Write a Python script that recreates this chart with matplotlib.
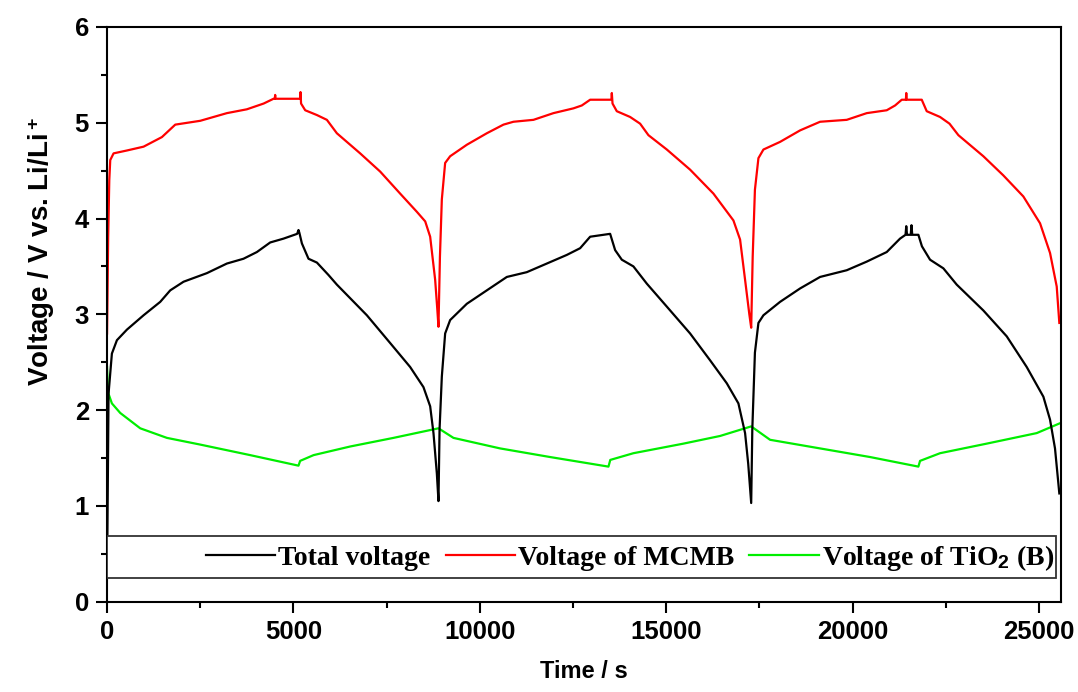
import matplotlib
matplotlib.use('Agg')
import matplotlib.pyplot as plt
from matplotlib.patches import Rectangle
from matplotlib.ticker import MultipleLocator

# values (time in s, voltage in V)
t_mcmb = [0, 30, 60, 86, 175, 533, 980, 1472, 1830, 2500, 3215, 3750, 4200,
          4466, 4500, 4510, 4520, 5180, 5190, 5205, 5316, 5630, 5897, 6165,
          6790, 7327, 7863, 8311, 8535, 8668, 8802, 8860, 8891, 8930, 8981,
          9070, 9204, 9652, 10188, 10634, 10902, 11439, 11975, 12512, 12736,
          12960, 13530, 13541, 13560, 13675, 14032, 14300, 14523, 15017,
          15641, 16267, 16803, 16982, 17116, 17230, 17280, 17320, 17380,
          17474, 17608, 18055, 18592, 19128, 19843, 20380, 20916, 21140,
          21319, 21430, 21440, 21450, 21855, 21989, 22346, 22600, 22838,
          23508, 24044, 24581, 25029, 25297, 25476, 25546]
v_mcmb = [2.80, 3.80, 4.40, 4.61, 4.68, 4.71, 4.75, 4.85, 4.98, 5.02, 5.10,
          5.14, 5.20, 5.25, 5.25, 5.29, 5.25, 5.25, 5.32, 5.20, 5.13, 5.08,
          5.03, 4.89, 4.68, 4.49, 4.26, 4.07, 3.97, 3.81, 3.36, 3.05, 2.87,
          3.60, 4.20, 4.58, 4.65, 4.77, 4.89, 4.98, 5.01, 5.03, 5.10, 5.15,
          5.18, 5.24, 5.24, 5.31, 5.20, 5.12, 5.06, 4.99, 4.87, 4.72, 4.51,
          4.26, 3.98, 3.78, 3.36, 3.00, 2.86, 3.60, 4.30, 4.63, 4.72, 4.80,
          4.92, 5.01, 5.03, 5.10, 5.13, 5.18, 5.24, 5.24, 5.31, 5.24, 5.24,
          5.12, 5.06, 4.99, 4.87, 4.65, 4.45, 4.23, 3.95, 3.64, 3.29, 2.91]

t_total = [0, 20, 40, 130, 265, 533, 980, 1427, 1695, 2052, 2680, 3215, 3660,
           4020, 4377, 4734, 5100, 5136, 5160, 5227, 5404, 5630, 5941, 6165,
           6970, 7595, 8131, 8488, 8668, 8757, 8847, 8891, 8920, 8981, 9070,
           9204, 9652, 10188, 10725, 11261, 11798, 12334, 12691, 12960,
           13496, 13630, 13809, 14120, 14480, 15017, 15641, 16177, 16625,
           16937, 17116, 17200, 17280, 17310, 17380, 17474, 17608, 18055,
           18592, 19128, 19843, 20380, 20916, 21273, 21420, 21440, 21460,
           21560, 21580, 21600, 21765, 21860, 22078, 22435, 22793, 23508,
           24135, 24671, 25118, 25297, 25430, 25546]
v_total = [0.25, 1.20, 2.17, 2.59, 2.73, 2.84, 2.99, 3.13, 3.25, 3.34, 3.43,
           3.53, 3.58, 3.65, 3.75, 3.79, 3.84, 3.88, 3.85, 3.74, 3.58, 3.54,
           3.41, 3.31, 2.99, 2.70, 2.45, 2.24, 2.04, 1.76, 1.34, 1.05, 1.80,
           2.35, 2.80, 2.94, 3.11, 3.25, 3.39, 3.44, 3.53, 3.62, 3.69, 3.81,
           3.84, 3.67, 3.57, 3.50, 3.32, 3.08, 2.80, 2.52, 2.28, 2.07, 1.76,
           1.44, 1.03, 1.80, 2.60, 2.91, 2.99, 3.13, 3.27, 3.39, 3.46, 3.55,
           3.65, 3.79, 3.83, 3.92, 3.83, 3.83, 3.93, 3.83, 3.83, 3.71, 3.57,
           3.48, 3.31, 3.04, 2.77, 2.45, 2.14, 1.90, 1.60, 1.13]

t_tio2 = [0, 20, 40, 130, 354, 890, 1606, 2500, 3840, 5136, 5180, 5540,
          6522, 7684, 8891, 9293, 10545, 11886, 13451, 13500, 14120, 15462,
          16446, 17280, 17787, 19128, 20470, 21765, 21810, 22346, 23598,
          24940, 25546]
v_tio2 = [2.45, 2.25, 2.17, 2.07, 1.97, 1.81, 1.71, 1.64, 1.53, 1.42, 1.47,
          1.53, 1.62, 1.71, 1.81, 1.71, 1.60, 1.51, 1.41, 1.48, 1.55, 1.65,
          1.73, 1.83, 1.69, 1.60, 1.51, 1.41, 1.47, 1.55, 1.65, 1.76, 1.86]

labels = ['Total voltage', 'Voltage of MCMB', 'Voltage of TiO$_\\mathit{2}$ (B)']

plt.rcParams['font.family'] = 'Liberation Sans'
plt.rcParams['font.weight'] = 'bold'
plt.rcParams['mathtext.fontset'] = 'custom'
plt.rcParams['mathtext.rm'] = 'Liberation Sans:bold'
plt.rcParams['mathtext.it'] = 'Liberation Serif:bold'

fig = plt.figure(figsize=(10.78, 6.92), dpi=100)
ax = fig.add_axes([0.0993, 0.1305, 0.8849, 0.8306])

l1, = ax.plot(t_total, v_total, color='black', lw=1.6, zorder=3)
l2, = ax.plot(t_mcmb, v_mcmb, color='#ff0000', lw=1.6, zorder=2)
l3, = ax.plot(t_tio2, v_tio2, color='#00ee00', lw=1.6, zorder=2)

ax.set_xlim(0, 25590)
ax.set_ylim(0, 6)
ax.xaxis.set_major_locator(MultipleLocator(5000))
ax.xaxis.set_minor_locator(MultipleLocator(2500))
ax.yaxis.set_major_locator(MultipleLocator(1))
ax.yaxis.set_minor_locator(MultipleLocator(0.5))
ax.tick_params(which='major', direction='out', length=8, width=1.5,
               labelsize=18.5, pad=5)
ax.tick_params(which='minor', direction='out', length=4.5, width=1.5)
for s in ax.spines.values():
    s.set_linewidth(1.5)

ax.set_xlabel('Time / s', fontsize=17, fontweight='bold', labelpad=12)
ax.set_ylabel('Voltage / V vs. Li/Li$^+$', fontsize=20, fontweight='bold')
ax.yaxis.set_label_coords(-0.052, 0.61)

# legend box across the bottom of the axes
box = Rectangle((0, 0.041), 0.9948, 0.073, transform=ax.transAxes,
                facecolor='white', edgecolor='#333333', lw=1.3, zorder=4)
ax.add_patch(box)
leg = ax.legend([l1, l2, l3], labels, ncol=3, frameon=False,
                loc='center right', bbox_to_anchor=(0.9925, 0.076),
                prop={'family': 'Liberation Serif', 'weight': 'bold', 'size': 20},
                handlelength=2.5, handletextpad=0.1, columnspacing=0.55,
                borderpad=0, borderaxespad=0)
leg.set_zorder(5)

fig.savefig('out.png', dpi=100)
